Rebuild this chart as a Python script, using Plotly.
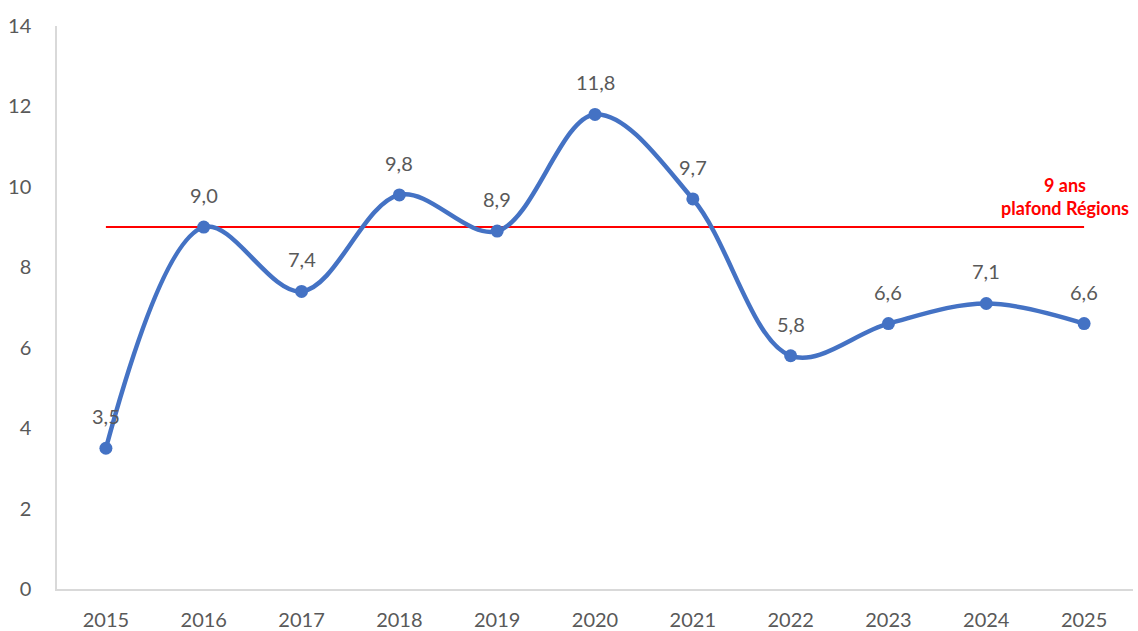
import plotly.graph_objects as go

years = ["2015", "2016", "2017", "2018", "2019", "2020", "2021", "2022", "2023", "2024", "2025"]
values = [3.5, 9.0, 7.4, 9.8, 8.9, 11.8, 9.7, 5.8, 6.6, 7.1, 6.6]
labels = ["3,5", "9,0", "7,4", "9,8", "8,9", "11,8", "9,7", "5,8", "6,6", "7,1", "6,6"]
ceiling_x = ["2015", "2025"]
ceiling_y = [9, 9]
ceiling_text = "9 ans<br>plafond Régions"
y_ticks = [0, 2, 4, 6, 8, 10, 12, 14]

FONT = "Lato"
GRAY = "#595959"

fig = go.Figure()
fig.add_trace(go.Scatter(
    x=ceiling_x, y=ceiling_y, mode="lines",
    line=dict(color="#FF0000", width=2), hoverinfo="skip", showlegend=False,
))
fig.add_trace(go.Scatter(
    x=years, y=values, mode="lines+markers",
    line=dict(color="#4472C4", width=4.5, shape="spline", smoothing=1.0),
    marker=dict(color="#4472C4", size=13),
    showlegend=False,
))

for i, (y, t) in enumerate(zip(values, labels)):
    fig.add_annotation(x=i, y=y, text=t, showarrow=False, yshift=32,
                       font=dict(family=FONT, size=20, color=GRAY))

fig.add_annotation(x=9.8, y=9, yshift=6, yanchor="bottom",
                   text=ceiling_text, showarrow=False, align="center",
                   font=dict(family=FONT, size=18, color="#FF0000", weight="bold"))

fig.update_layout(
    width=1138, height=631,
    margin=dict(l=57, r=5, t=26, b=42, autoexpand=False),
    paper_bgcolor="white", plot_bgcolor="white",
    font=dict(family=FONT, size=20, color=GRAY),
    xaxis=dict(type="category", categoryorder="array", categoryarray=years,
               range=[-0.5, 10.5], showgrid=False, automargin=False,
               showline=True, linecolor="#D9D9D9", linewidth=1.5,
               ticks="", tickfont=dict(size=20, color=GRAY),
               ticklabelstandoff=12, zeroline=False),
    yaxis=dict(range=[0, 14], tickvals=y_ticks, showgrid=False, automargin=False,
               showline=True, linecolor="#D9D9D9", linewidth=1.5,
               ticks="", tickfont=dict(size=20, color=GRAY),
               ticklabelstandoff=20, zeroline=False),
)

fig.write_html("out.html", config={"displayModeBar": False},
               post_script="document.body.style.margin='0';document.body.style.overflow='hidden';")
